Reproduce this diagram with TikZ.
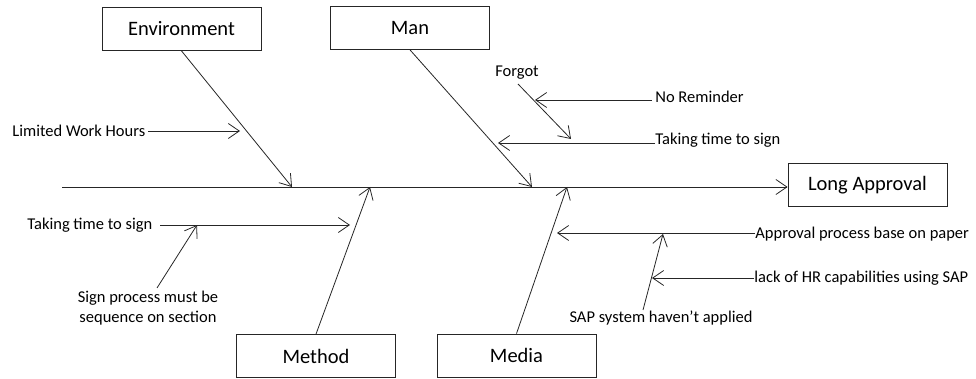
\documentclass[tikz,border=0pt]{standalone}
\usepackage{fontspec}
\setmainfont{Carlito}
\usetikzlibrary{arrows.meta}
\begin{document}
\begin{tikzpicture}[x=1pt,y=-1pt,
  line width=0.8pt, draw=black!85,
  catbox/.style={draw=black!85, minimum width=159pt, minimum height=43pt, inner sep=0pt,
                 font=\fontsize{20.5}{24}\selectfont},
  cause/.style={inner sep=0pt, font=\fontsize{16.5}{20}\selectfont},
  arr/.style={-{Straight Barb[length=11pt,width=15pt]}},
]
\useasboundingbox (0,0) rectangle (976,379);

% category boxes and effect
\node[catbox] (env)    at (181.5,29)  {Environment};
\node[catbox] (man)    at (410,28)    {Man};
\node[catbox] (effect) at (867.5,185) {Long Approval};
\node[catbox] (method) at (316,356)   {Method};
\node[catbox] (media)  at (516.5,355.5) {Media};

% cause labels
\node[cause, anchor=west] (lwh)    at (12,131)  {Limited Work Hours};
\node[cause]              (forgot) at (517,73)  {Forgot};
\node[cause, anchor=west] (norem)  at (655,97)  {No Reminder};
\node[cause, anchor=west] (ttsA)   at (655,140) {Taking time to sign};
\node[cause, anchor=west] (ttsB)   at (27,225)  {Taking time to sign};
\node[cause, align=center] (seq)   at (148,308) {Sign process must be\\sequence on section};
\node[cause, anchor=west] (paper)  at (755,234) {Approval process base on paper};
\node[cause, anchor=west] (lack)   at (754,278) {lack of HR capabilities using SAP};
\node[cause]              (sap)    at (661,318) {SAP system haven’t applied};

% spine and branch points
\coordinate (tail) at (62,187);
\coordinate (envT) at (292,187);
\coordinate (manT) at (532,187);
\coordinate (metT) at (370,187);
\coordinate (medT) at (567,187);

% cause arrow ends
\coordinate (lwhS) at (148,131);  \coordinate (lwhT) at (240,131);
\coordinate (fgS)  at (518,84);   \coordinate (fgT)  at (571,139);
\coordinate (nrS)  at (652,100);  \coordinate (nrT)  at (535,100);
\coordinate (taS)  at (655,143);  \coordinate (taT)  at (498,143);
\coordinate (tbS)  at (160,225);  \coordinate (tbT)  at (350,225);
\coordinate (sqS)  at (157,288);  \coordinate (sqT)  at (197,225);
\coordinate (ppS)  at (755,233);  \coordinate (ppT)  at (557,233);
\coordinate (lkS)  at (754,278);  \coordinate (lkT)  at (652,278);
\coordinate (spS)  at (643,310);  \coordinate (spT)  at (663,234);

\draw[arr] (tail) -- (tail -| effect.west);
\draw[arr] (env.south) -- (envT);
\draw[arr] (man.south) -- (manT);
\draw[arr] (method.north) -- (metT);
\draw[arr] (media.north) -- (medT);

\draw[arr] (lwhS) -- (lwhT);
\draw[arr] (fgS) -- (fgT);
\draw[arr] (nrS) -- (nrT);
\draw[arr] (taS) -- (taT);
\draw[arr] (tbS) -- (tbT);
\draw[arr] (sqS) -- (sqT);
\draw[arr] (ppS) -- (ppT);
\draw[arr] (lkS) -- (lkT);
\draw[arr] (spS) -- (spT);
\end{tikzpicture}
\end{document}
